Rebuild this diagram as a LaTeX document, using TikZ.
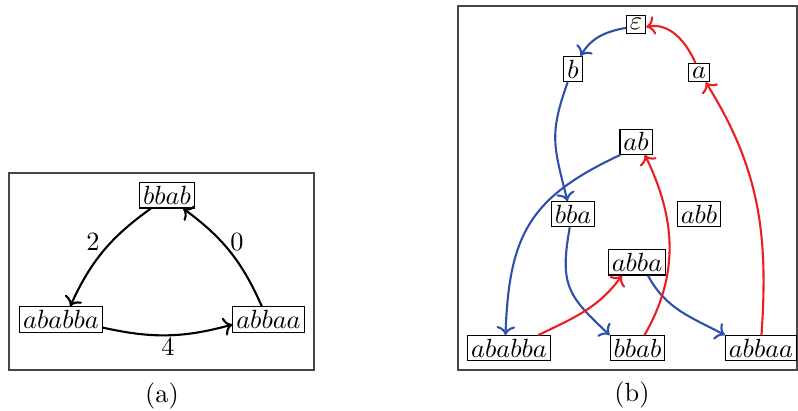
\documentclass[tikz,border=0pt]{standalone}
\usetikzlibrary{arrows.meta}
\definecolor{eblue}{RGB}{45,80,170}
\definecolor{ered}{RGB}{235,30,35}
\definecolor{frame}{RGB}{70,70,70}
\begin{document}
\begin{tikzpicture}[x=0.38pt,y=-0.38pt,
  box/.style={draw, inner sep=1.3pt, anchor=base, line width=0.4pt},
  frm/.style={draw=frame, line width=0.5pt},
  edge/.style={->, line width=0.8pt},
  bl/.style={edge, eblue},
  rd/.style={edge, ered},
  lab/.style={inner sep=0pt}]
\useasboundingbox (0,0) rectangle (798,410);
% frames
\draw[frm] (9,173) rectangle (314,370);
\draw[frm] (458,6) rectangle (797,370);
% (a)
\node[box] (A1) at (167,204.6) {$bbab$};
\node[box] (A2) at (61,328.6) {$ababba$};
\node[box] (A3) at (268.5,328.6) {$abbaa$};
\draw[edge] (A1.219) to[bend right=15] (A2.55);
\draw[edge] (A2.-11) to[bend right=14] (A3.188);
\draw[edge] (A3.117) to[bend right=15] (A1.-39);
\node[lab] (L2) at (93,242) {$2$};
\node[lab] (L0) at (237,242) {$0$};
\node[lab] (L4) at (168,347) {$4$};
\node[lab] (ca) at (162,396) {(a)};
% (b)
\node[box] (eps) at (636,29.9) {$\varepsilon$};
\node[box] (b) at (573,78.3) {$b$};
\node[box] (a) at (699,78.3) {$a$};
\node[box] (ab) at (636,150.9) {$ab$};
\node[box] (bba) at (573,223.3) {$bba$};
\node[box] (abb) at (699,223.3) {$abb$};
\node[box] (abba) at (637,271.6) {$abba$};
\node[box] (ababba) at (509,357.3) {$ababba$};
\node[box] (bbab) at (637.5,357.3) {$bbab$};
\node[box] (abbaa) at (761,357.3) {$abbaa$};
\node[lab] (cb) at (632,395) {(b)};
% blue edges
\draw[bl] (eps.200) to[out=190,in=60] (b.60);
\draw[bl] (b.248) to[out=250,in=104,looseness=1.2] (bba.113);
\draw[bl] (ab.220) to[out=205,in=88,looseness=1.2] (ababba.105);
\draw[bl] (bba.256) to[out=260,in=137,looseness=1.3] (bbab.north west);
\draw[bl] (abba.-50) to[out=-62,in=152] (abbaa.north west);
% red edges
\draw[rd] (a.110) to[out=114,in=11] (eps.-15);
\draw[rd] (abbaa.88) to[out=86,in=-58] (a.-55);
\draw[rd] (bbab.62) to[out=60,in=-64] (ab.-56);
\draw[rd] (ababba.24) to[out=26,in=234] (abba.221);
\end{tikzpicture}
\end{document}
